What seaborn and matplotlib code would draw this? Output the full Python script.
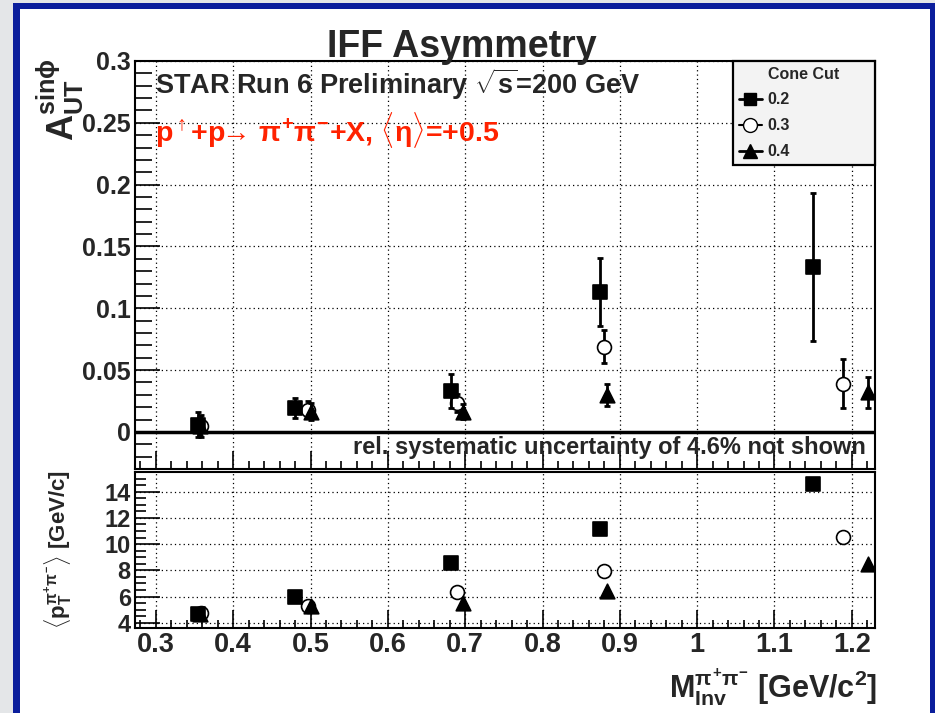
import numpy as np
import pandas as pd
import matplotlib
matplotlib.use("Agg")
import matplotlib.pyplot as plt
import seaborn as sns
from matplotlib.lines import Line2D
from matplotlib.patches import Rectangle
from matplotlib.ticker import MultipleLocator

# ---------------- data ----------------
cone_cuts = ["0.2", "0.3", "0.4"]

mass_02 = [0.355, 0.480, 0.682, 0.874, 1.150]
asym_02 = [0.0057, 0.0195, 0.0330, 0.1135, 0.1335]
err_02 = [0.0100, 0.0080, 0.0137, 0.0275, 0.0600]
pt_02 = [4.70, 5.95, 8.56, 11.15, 14.60]

mass_03 = [0.359, 0.497, 0.689, 0.880, 1.188]
asym_03 = [0.0050, 0.0180, 0.0235, 0.0690, 0.0390]
err_03 = [0.0090, 0.0070, 0.0070, 0.0135, 0.0200]
pt_03 = [4.75, 5.30, 6.34, 7.97, 10.51]

mass_04 = [0.357, 0.500, 0.697, 0.884, 1.221]
asym_04 = [0.0050, 0.0165, 0.0165, 0.0300, 0.0320]
err_04 = [0.0080, 0.0065, 0.0060, 0.0090, 0.0125]
pt_04 = [4.70, 5.25, 5.50, 6.39, 8.48]

x_ticks = [0.3, 0.4, 0.5, 0.6, 0.7, 0.8, 0.9, 1.0, 1.1, 1.2]
x_tick_labels = ["0.3", "0.4", "0.5", "0.6", "0.7", "0.8", "0.9", "1", "1.1", "1.2"]
asym_ticks = [0, 0.05, 0.1, 0.15, 0.2, 0.25, 0.3]
asym_tick_labels = ["0", "0.05", "0.1", "0.15", "0.2", "0.25", "0.3"]
pt_ticks = [4, 6, 8, 10, 12, 14]

frames = []
for cut, m, a, e, p in [("0.2", mass_02, asym_02, err_02, pt_02),
                        ("0.3", mass_03, asym_03, err_03, pt_03),
                        ("0.4", mass_04, asym_04, err_04, pt_04)]:
    frames.append(pd.DataFrame({"cone": cut, "mass": m, "asym": a, "err": e, "pt": p}))
df = pd.concat(frames, ignore_index=True)

# ---------------- style ----------------
sns.set_theme(style="white")
plt.rcParams["font.family"] = ["Liberation Sans", "DejaVu Sans"]
plt.rcParams["font.weight"] = "bold"
plt.rcParams["mathtext.fontset"] = "custom"
plt.rcParams["mathtext.rm"] = "Liberation Sans:bold"
plt.rcParams["mathtext.it"] = "Liberation Sans:bold"
plt.rcParams["mathtext.bf"] = "Liberation Sans:bold"
plt.rcParams["axes.unicode_minus"] = False

W, H = 935, 713
fig = plt.figure(figsize=(W / 100, H / 100), dpi=100)
fig.patch.set_facecolor("#e4e6e8")
fig.add_artist(Rectangle((13 / W, 0), 1, 1 - 3 / H, transform=fig.transFigure,
                         facecolor="#0b1e9c", edgecolor="none", zorder=-10))
fig.add_artist(Rectangle((20 / W, 0), (930 - 20) / W, 1 - 9 / H, transform=fig.transFigure,
                         facecolor="white", edgecolor="none", zorder=-9))

def fx(px):
    return px / W

def fy(py):
    return 1 - py / H

ax1 = fig.add_axes([fx(135), fy(469), (875 - 135) / W, (469 - 61) / H])
ax2 = fig.add_axes([fx(135), fy(628), (875 - 135) / W, (628 - 472) / H])

styles = {
    "0.2": dict(marker="s", fc="black", s=95),
    "0.3": dict(marker="o", fc="white", s=100),
    "0.4": dict(marker="^", fc="black", s=110),
}
order = ["0.3", "0.4", "0.2"]
zs = {"0.3": 3, "0.4": 4, "0.2": 5}

for cut in order:
    d = df[df["cone"] == cut]
    st = styles[cut]
    ax1.errorbar(d["mass"], d["asym"], yerr=d["err"], fmt="none", ecolor="black",
                 elinewidth=2.0, capsize=2.5, capthick=2.0, zorder=zs[cut])
    sns.scatterplot(x=d["mass"], y=d["asym"], marker=st["marker"], s=st["s"],
                    color=st["fc"], edgecolor="black", linewidth=1.2, ax=ax1,
                    zorder=zs[cut] + 0.5, legend=False)
    sns.scatterplot(x=d["mass"], y=d["pt"], marker=st["marker"], s=st["s"],
                    color=st["fc"], edgecolor="black", linewidth=1.2, ax=ax2,
                    zorder=zs[cut] + 0.5, legend=False)

ax1.axhline(0, color="black", lw=2.5, zorder=2)

for ax in (ax1, ax2):
    ax.set_xlim(0.273, 1.230)
    ax.set_xticks(x_ticks)
    ax.xaxis.set_minor_locator(MultipleLocator(0.02))
    ax.grid(True, which="major", color="black", linestyle=(0, (1, 2.5)), linewidth=0.9)
    ax.set_axisbelow(True)
    for sp in ax.spines.values():
        sp.set_color("black")
        sp.set_linewidth(1.5)
    ax.set_xlabel("")
    ax.set_ylabel("")
    ax.tick_params(which="both", direction="in", color="black", width=1.2,
                   top=False, right=False, left=True, bottom=True)
    ax.tick_params(axis="x", which="major", length=13)
    ax.tick_params(axis="x", which="minor", length=6)

ax1.set_ylim(-0.03, 0.3)
ax1.set_yticks(asym_ticks)
ax1.set_yticklabels(asym_tick_labels)
ax1.yaxis.set_minor_locator(MultipleLocator(0.01))
ax1.tick_params(axis="y", which="major", length=18, labelsize=18, pad=3)
ax1.tick_params(axis="y", which="minor", length=12)
ax1.set_xticklabels([])

ax2.set_ylim(3.6, 15.5)
ax2.set_yticks(pt_ticks)
ax2.yaxis.set_minor_locator(MultipleLocator(0.5))
ax2.tick_params(axis="y", which="major", length=18, labelsize=17, pad=3)
ax2.tick_params(axis="y", which="minor", length=8)
ax2.set_xticklabels(x_tick_labels)
ax2.tick_params(axis="x", which="major", labelsize=19.5, pad=3)

# legend
handles = [
    Line2D([], [], color="black", lw=2, marker="s", markersize=9, markerfacecolor="black", markeredgecolor="black"),
    Line2D([], [], color="black", lw=1.5, marker="o", markersize=10, markerfacecolor="white", markeredgecolor="black"),
    Line2D([], [], color="black", lw=2, marker="^", markersize=10, markerfacecolor="black", markeredgecolor="black"),
]
leg = ax1.legend(handles, cone_cuts, title="Cone Cut", loc="upper left",
                 bbox_to_anchor=(0.808, 0.0, 0.192, 1.0), mode="expand",
                 borderaxespad=0, frameon=True, fancybox=False, framealpha=1,
                 facecolor="#f3f3f3", edgecolor="black",
                 prop={"weight": "bold", "size": 11.5}, title_fontsize=11.5,
                 handlelength=1.5, handletextpad=0.3, labelspacing=0.68, borderpad=0.35)
leg.get_title().set_fontweight("bold")
leg.get_frame().set_linewidth(1.6)
leg.set_zorder(10)

# texts
fig.text(fx(462), fy(57), "IFF Asymmetry", ha="center", va="baseline", fontsize=27, fontweight="bold")
fig.text(fx(155), fy(94), r"STAR Run 6 Preliminary $\sqrt{s}$=200 GeV", ha="left", va="baseline",
         fontsize=19.5, fontweight="bold")
fig.text(fx(155), fy(141), r"p$^{\uparrow}$+p$\!\!\rightarrow\!$ $\pi^{+}\pi^{-}$+X, $\langle\eta\rangle$=+0.5",
         ha="left", va="baseline", fontsize=20.5, fontweight="bold", color="#ff2200")
fig.text(fx(866), fy(454), "rel. systematic uncertainty of 4.6% not shown", ha="right", va="baseline",
         fontsize=17, fontweight="bold")
fig.text(fx(60), fy(58), r"A$_{\mathrm{UT}}^{\mathrm{sin}\phi}$", rotation=90, ha="center", va="top",
         fontsize=26, fontweight="bold")
fig.text(fx(58), fy(470), r"$\langle$p$_{\mathrm{T}}^{\pi^{+}\pi^{-}}\rangle$ [GeV/c]", rotation=90,
         ha="center", va="top", fontsize=16, fontweight="bold")
fig.text(fx(877), fy(697), r"M$_{\mathrm{Inv}}^{\pi^{+}\pi^{-}}$ [GeV/c$^{2}$]", ha="right", va="baseline",
         fontsize=22, fontweight="bold")

fig.savefig("out.png", dpi=100, facecolor=fig.get_facecolor())
